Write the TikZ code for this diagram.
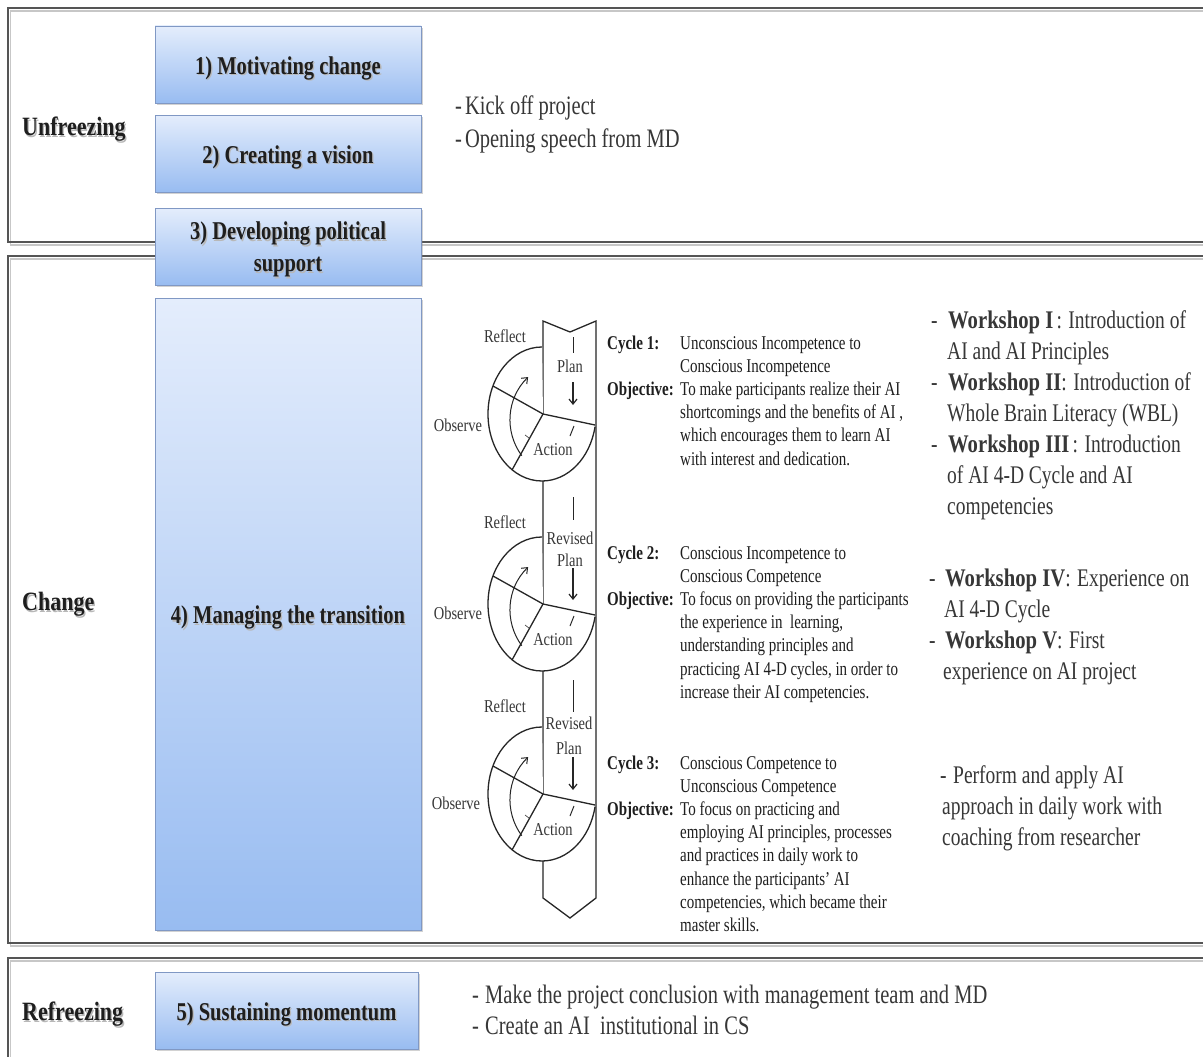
\documentclass[tikz,border=0pt]{standalone}
\usepackage{fontspec}
\setmainfont{Liberation Serif}
\usepackage{graphicx}
\usetikzlibrary{arrows.meta,shadows}

\newcommand{\vst}[2][1.3]{\scalebox{1}[#1]{#2}}
\newcommand{\shd}[1]{\rlap{\hspace{1.3pt}\raisebox{-1.3pt}{\textcolor{black!28}{#1}}}#1}
\newcommand{\wb}[1]{\scalebox{1.06}[1]{\textbf{#1}}}
\newcommand{\lowr}[1]{\raisebox{-4.5pt}[\height][\depth]{#1}}

\definecolor{boxtop}{RGB}{228,237,252}
\definecolor{boxbot}{RGB}{152,188,241}
\definecolor{boxline}{RGB}{128,152,196}
\definecolor{panelline}{RGB}{85,85,85}
\definecolor{txt}{RGB}{30,30,30}
\definecolor{gtxt}{RGB}{55,55,55}

\tikzset{
  panel/.style={draw=panelline, line width=1.8pt},
  panelshadow/.style={draw=black!22, line width=1.6pt},
  stagebox/.style={draw=boxline, line width=0.8pt, top color=boxtop, bottom color=boxbot,
    inner sep=0pt, align=center,
    drop shadow={shadow xshift=1.6pt, shadow yshift=-2.2pt, opacity=0.35},
    font=\fontsize{20.5}{25.6}\selectfont\bfseries, text=txt},
  phase/.style={font=\fontsize{22}{26}\selectfont\bfseries, text=txt, inner sep=0pt, anchor=west},
  wk/.style={font=\fontsize{19.5}{23.85}\selectfont, text=gtxt, inner sep=0pt, anchor=base west},
  kick/.style={font=\fontsize{20.5}{25.4}\selectfont, text=gtxt, inner sep=0pt, anchor=base west},
  cyt/.style={font=\fontsize{15}{17.85}\selectfont, text=txt, inner sep=0pt, anchor=base west},
  lbl/.style={font=\fontsize{14.5}{16}\selectfont, text=gtxt, inner sep=0pt},
  cyc/.style={draw=black!85, line width=1.3pt},
  thin/.style={draw=black!85, line width=1pt},
  downarrow/.style={draw=black!85, line width=1.2pt, -{Straight Barb[length=5pt,width=8pt]}},
}

\begin{document}
\begin{tikzpicture}[x=1pt,y=-1pt]
\useasboundingbox (0,0) rectangle (1203,1057);
\clip (0,0) rectangle (1203,1057);
\fill[white] (0,0) rectangle (1203,1057);

% ---------- panels ----------
\foreach \t/\b in {8/242, 256/943, 958/1080} {
  \draw[panelshadow] (10.5,\t+3) rectangle (1220,\b+3);
  \draw[panel] (8,\t) rectangle (1220,\b);
}

% ---------- phase labels ----------
\node[phase] (unf) at (22,130) {\vst[1.2]{\shd{Unfreezing}}};
\node[phase] (chg) at (22,605) {\vst[1.2]{\shd{Change}}};
\node[phase] (ref) at (22,1015) {\vst[1.2]{\shd{Refreezing}}};

% ---------- stage boxes ----------
\node[stagebox, minimum width=266pt, minimum height=77pt] (b1) at (288,64.5)
  {\lowr{\vst[1.25]{\shd{1) Motivating change}}}};
\node[stagebox, minimum width=266pt, minimum height=77pt] (b2) at (288,153.5)
  {\lowr{\vst[1.25]{\shd{2) Creating a vision}}}};
\node[stagebox, minimum width=266pt, minimum height=77pt] (b3) at (288,246.5)
  {\raisebox{-3.5pt}[\height][\depth]{\vst[1.25]{\shd{\begin{tabular}{@{}c@{}}3) Developing political\\support\end{tabular}}}}};
\node[stagebox, minimum width=266pt, minimum height=632pt] (b4) at (288,614)
  {\lowr{\vst[1.25]{\shd{4) Managing the transition}}}};
\node[stagebox, minimum width=263pt, minimum height=77pt] (b5) at (286.5,1010.5)
  {\lowr{\vst[1.25]{\shd{5) Sustaining momentum}}}};

% ---------- side texts ----------
\node[kick] (t1) at (455,114) {\vst{\begin{tabular}[t]{@{}l@{}}
-\hspace{3pt}Kick off project\\
-\hspace{3pt}Opening speech from MD
\end{tabular}}};

\node[kick, font=\fontsize{20.5}{23.85}\selectfont] (t5) at (472,1003) {\vst{\begin{tabular}[t]{@{}l@{}}
\makebox[13pt][l]{-}Make the project conclusion with management team and MD\\
\makebox[13pt][l]{-}Create an AI\ \ institutional in CS
\end{tabular}}};

\node[wk] (w1) at (931,328) {\vst{\begin{tabular}[t]{@{}l@{}}
\makebox[17pt][l]{-}\wb{Workshop I}\,: Introduction of\\
\hspace{16pt}AI and AI Principles\\
\makebox[17pt][l]{-}\wb{Workshop II}: Introduction of\\
\hspace{16pt}Whole Brain Literacy (WBL)\\
\makebox[17pt][l]{-}\wb{Workshop III}\,: Introduction\\
\hspace{16pt}of AI 4-D Cycle and AI\\
\hspace{16pt}competencies
\end{tabular}}};

\node[wk] (w2) at (929,586) {\vst{\begin{tabular}[t]{@{}l@{}}
\makebox[16pt][l]{-}\wb{Workshop IV}: Experience on\\
\hspace{15pt}AI 4-D Cycle\\
\makebox[16pt][l]{-}\wb{Workshop V}: First\\
\hspace{14pt}experience on AI project
\end{tabular}}};

\node[wk] (w3) at (940,783) {\vst{\begin{tabular}[t]{@{}l@{}}
\makebox[13pt][l]{-}Perform and apply AI\\
\hspace{2pt}approach in daily work with\\
\hspace{2pt}coaching from researcher
\end{tabular}}};

% ---------- cycle texts ----------
\node[cyt] (c1) at (607,349) {\vst{\begin{tabular}[t]{@{}l@{}l@{}}
\makebox[73pt][l]{\textbf{Cycle 1:}} & Unconscious Incompetence to\\
 & Conscious Incompetence\\
\textbf{Objective:} & To make participants realize their AI\\
 & shortcomings and the benefits of AI ,\\
 & which encourages them to learn AI\\
 & with interest and dedication.
\end{tabular}}};

\node[cyt] (c2) at (607,559) {\vst{\begin{tabular}[t]{@{}l@{}l@{}}
\makebox[73pt][l]{\textbf{Cycle 2:}} & Conscious Incompetence to\\
 & Conscious Competence\\
\textbf{Objective:} & To focus on providing the participants\\
 & the experience in\ \ learning,\\
 & understanding principles and\\
 & practicing AI 4-D cycles, in order to\\
 & increase their AI competencies.
\end{tabular}}};

\node[cyt] (c3) at (607,769) {\vst{\begin{tabular}[t]{@{}l@{}l@{}}
\makebox[73pt][l]{\textbf{Cycle 3:}} & Conscious Competence to\\
 & Unconscious Competence\\
\textbf{Objective:} & To focus on practicing and\\
 & employing AI principles, processes\\
 & and practices in daily work to\\
 & enhance the participants' AI\\
 & competencies, which became their\\
 & master skills.
\end{tabular}}};

% ---------- cycle diagram ----------
\draw[cyc, fill=white] (543,321) -- (570,332) -- (596,321) -- (596,898) -- (570,918) -- (543,898) -- cycle;

\foreach \c in {414,604,794} {
  \fill[white] (543,\c) -- (542,\c-67) arc[start angle=-90, end angle=-349, x radius=54, y radius=67] -- cycle;
  \draw[cyc] (542,\c-67) arc[start angle=-90, end angle=-349, x radius=54, y radius=67];
  \draw[cyc] (493,\c-28) -- (543,\c) -- (595,\c+11);
  \draw[cyc] (543,\c) -- (512,\c+56);
  \draw[thin, -{Straight Barb[length=5pt,width=8pt]}] (521.8,\c+41.7) arc[start angle=143.5, end angle=225.7, radius=60];
  \draw[thin] (574,\c+12) -- (570,\c+22);
  \draw[draw=black!70, line width=0.7pt] (525,\c+21) -- (529,\c+24);
}
\draw[thin] (573,337) -- (573,353);
\draw[downarrow] (573,382) -- (573,405);
\draw[thin] (573,497) -- (573,520);
\draw[downarrow] (573,568) -- (573,600);
\draw[thin] (573,680) -- (573,712);
\draw[downarrow] (573,757) -- (573,790);

% cycle labels
\node[lbl] (rf1) at (505,336) {\vst[1.25]{Reflect}};
\node[lbl] (ob1) at (458,425) {\vst[1.25]{Observe}};
\node[lbl] (pl1) at (570,366) {\vst[1.25]{Plan}};
\node[lbl] (ac1) at (553,450) {\vst[1.25]{Action}};

\node[lbl] (rf2) at (505,522) {\vst[1.25]{Reflect}};
\node[lbl] (ob2) at (458,613) {\vst[1.25]{Observe}};
\node[lbl] (rv2) at (570,538) {\vst[1.25]{Revised}};
\node[lbl] (pl2) at (570,560) {\vst[1.25]{Plan}};
\node[lbl] (ac2) at (553,640) {\vst[1.25]{Action}};

\node[lbl] (rf3) at (505,706) {\vst[1.25]{Reflect}};
\node[lbl] (ob3) at (456,803) {\vst[1.25]{Observe}};
\node[lbl] (rv3) at (569,723) {\vst[1.25]{Revised}};
\node[lbl] (pl3) at (569,748) {\vst[1.25]{Plan}};
\node[lbl] (ac3) at (553,830) {\vst[1.25]{Action}};
\end{tikzpicture}
\end{document}
